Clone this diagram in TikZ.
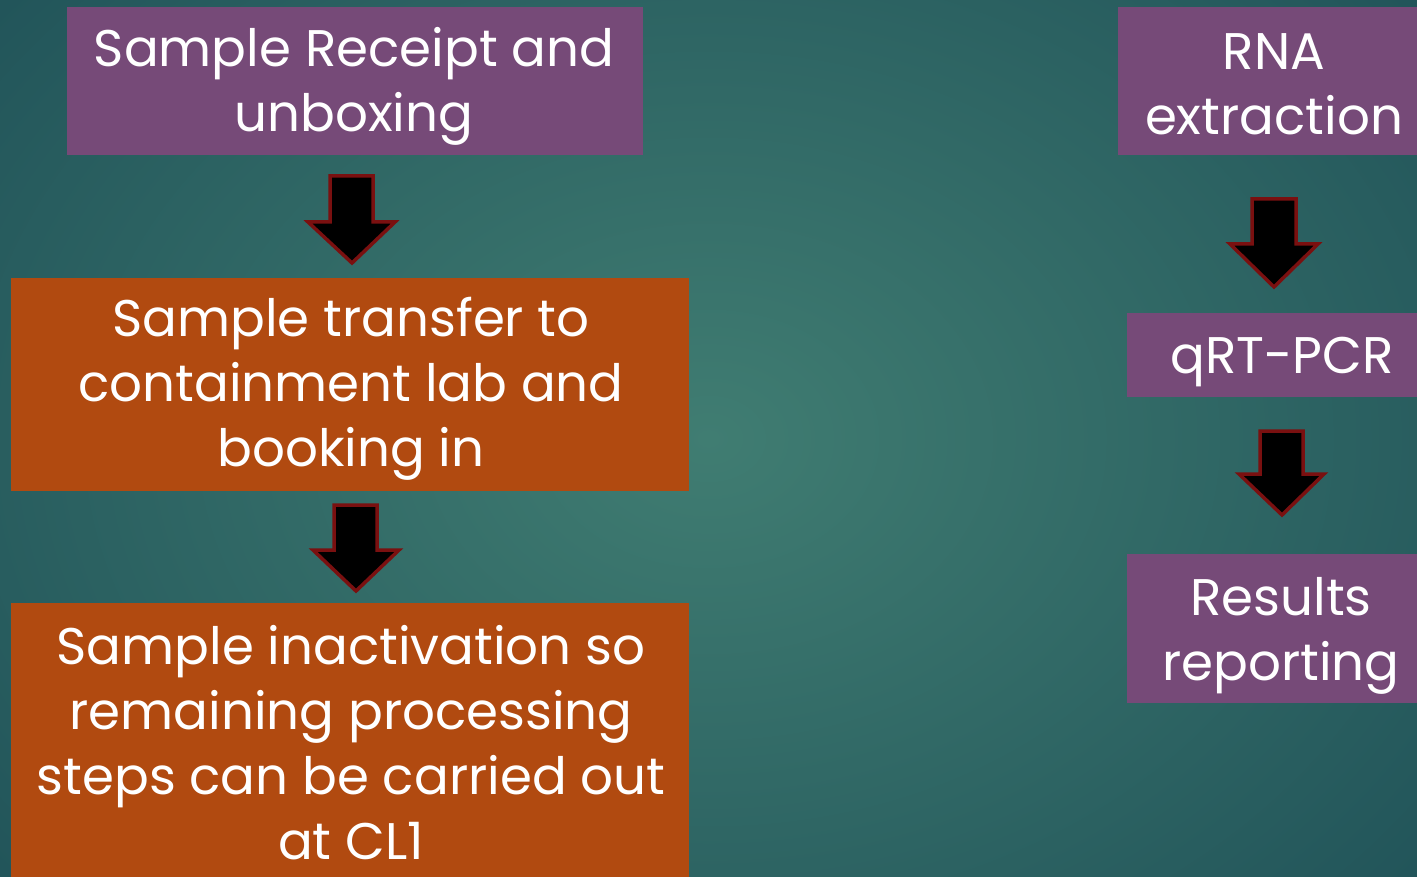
\documentclass[tikz,border=0pt]{standalone}
\usepackage{fontspec}
\setmainfont{Poppins}
\definecolor{bgin}{HTML}{407D72}
\definecolor{bgout}{HTML}{22555A}
\definecolor{purp}{HTML}{764A78}
\definecolor{orng}{HTML}{B14A10}
\definecolor{arrred}{HTML}{7A1010}
\tikzset{
  boxtext/.style={text=white, align=center, font=\fontsize{51.5}{65}\selectfont, inner sep=0pt},
  blockarrow/.style={fill=black, draw=arrred, line width=3.5pt, line join=miter},
}
\begin{document}
\begin{tikzpicture}[x=1pt,y=-1pt]
\useasboundingbox (0,0) rectangle (1417,877);
\begin{scope}
\clip (0,0) rectangle (1417,877);
\shade[inner color=bgin, outer color=bgout] (-200,-250) rectangle (1617,1127);
% boxes
\fill[purp] (67,7) rectangle (643,155);
\fill[orng] (11,278) rectangle (689,491);
\fill[orng] (11,603) rectangle (689,900);
\fill[purp] (1118,7) rectangle (1430,155);
\fill[purp] (1127,313) rectangle (1437,397);
\fill[purp] (1127,554) rectangle (1435,703);
% texts
\node[boxtext] (b1) at (354,86) {Sample Receipt and\\unboxing};
\node[boxtext] (b2) at (351,389) {Sample transfer to\\containment lab and\\booking in};
\node[boxtext] (b3) at (351,743) {Sample inactivation so\\remaining processing\\steps can be carried out\\at CL1};
\node[boxtext] (r1) at (1274,84) {RNA\\extraction};
\node[boxtext] (r2) at (1282,362) {qRT-PCR};
\node[boxtext] (r3) at (1281,636) {Results\\reporting};
% block arrows
\draw[blockarrow] (330,176) -- (373,176) -- (373,222) -- (395,222) -- (352,263) -- (308,222) -- (330,222) -- cycle;
\draw[blockarrow] (334,505) -- (377,505) -- (377,550) -- (399,550) -- (356,591) -- (313,550) -- (334,550) -- cycle;
\draw[blockarrow] (1252,199) -- (1296,199) -- (1296,244) -- (1318,244) -- (1274,287) -- (1230,244) -- (1252,244) -- cycle;
\draw[blockarrow] (1260,431) -- (1303,431) -- (1303,474) -- (1324,474) -- (1282,515) -- (1239,474) -- (1260,474) -- cycle;
\end{scope}
\end{tikzpicture}
\end{document}
